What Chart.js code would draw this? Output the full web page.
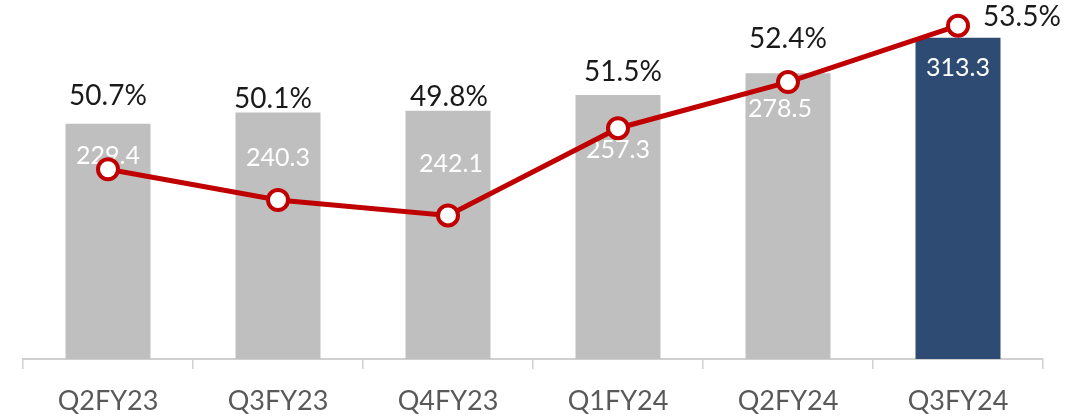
<!DOCTYPE html>
<html>
<head>
<meta charset="utf-8">
<script src="https://cdn.jsdelivr.net/npm/chart.js@4"></script>
<style>
  html, body { margin: 0; padding: 0; background: #fff; }
  #wrap { width: 1091px; height: 419px; }
</style>
</head>
<body>
<div id="wrap"><canvas id="grafico"></canvas></div>
<script>
const categorias = ['Q2FY23', 'Q3FY23', 'Q4FY23', 'Q1FY24', 'Q2FY24', 'Q3FY24'];
const valores = [229.4, 240.3, 242.1, 257.3, 278.5, 313.3];
const margenes = [50.7, 50.1, 49.8, 51.5, 52.4, 53.5];

// label nudges (px), the way they were hand-placed in the original
const ajusteValor = [[0, 32], [0, 45], [3, 53], [0, 55], [-8, 36], [0, 30]];
const ajusteMargen = [[0, -73], [-5, -101], [1, -118], [5, -56], [0, -43], [64, -9]];

const colorBarras = categorias.map((c, i) => i === categorias.length - 1 ? '#2E4C73' : '#BFBFBF');
const fuente = 'Lato, "Open Sans", sans-serif';

const etiquetas = {
    id: 'etiquetas',
    afterDatasetDraw(chart, args) {
        if (args.meta.type !== 'bar') return;
        const ctx = chart.ctx;
        ctx.save();
        ctx.font = '25px ' + fuente;
        ctx.fillStyle = '#FFFFFF';
        ctx.textAlign = 'center';
        ctx.textBaseline = 'middle';
        args.meta.data.forEach((bar, i) => {
            ctx.fillText(valores[i].toFixed(1), bar.x + ajusteValor[i][0], bar.y + ajusteValor[i][1]);
        });
        ctx.restore();
    },
    afterDatasetsDraw(chart) {
        const meta = chart.getDatasetMeta(0);
        const ctx = chart.ctx;
        ctx.save();
        ctx.font = '28px ' + fuente;
        ctx.fillStyle = '#1A1A1A';
        ctx.textAlign = 'center';
        ctx.textBaseline = 'middle';
        meta.data.forEach((pt, i) => {
            ctx.fillText(margenes[i].toFixed(1) + '%', pt.x + ajusteMargen[i][0], pt.y + ajusteMargen[i][1]);
        });
        ctx.restore();
    }
};

const data = {
    labels: categorias,
    datasets: [
        {
            type: 'line',
            label: 'Margen',
            data: margenes,
            yAxisID: 'y2',
            order: 0,
            borderColor: '#C00000',
            borderWidth: 5,
            pointRadius: 10,
            pointBorderWidth: 4,
            pointBackgroundColor: '#FFFFFF',
            pointBorderColor: '#C00000',
            tension: 0
        },
        {
            type: 'bar',
            label: 'Valor',
            data: valores,
            yAxisID: 'y',
            order: 1,
            backgroundColor: colorBarras,
            barPercentage: 0.5,
            categoryPercentage: 1
        }
    ]
};

const config = {
    data: data,
    options: {
        responsive: true,
        maintainAspectRatio: false,
        animation: false,
        layout: { autoPadding: false, padding: { left: 23, right: 48, top: 0, bottom: 0 } },
        plugins: {
            legend: { display: false },
            tooltip: { enabled: false }
        },
        scales: {
            x: {
                offset: true,
                afterFit: (scale) => { scale.height = 60; },
                grid: {
                    offset: true,
                    drawOnChartArea: false,
                    drawTicks: true,
                    tickLength: 10,
                    color: '#D0D0D0',
                    lineWidth: 1.5
                },
                border: { display: true, color: '#D0D0D0', width: 2 },
                ticks: {
                    color: '#595959',
                    padding: 16,
                    font: { family: fuente, size: 27 }
                }
            },
            y: { display: false, min: 0, max: 350 },
            y2: { display: false, position: 'right', min: 47, max: 54 }
        }
    },
    plugins: [etiquetas]
};

const myChart = new Chart(document.getElementById('grafico'), config);
</script>
</body>
</html>
